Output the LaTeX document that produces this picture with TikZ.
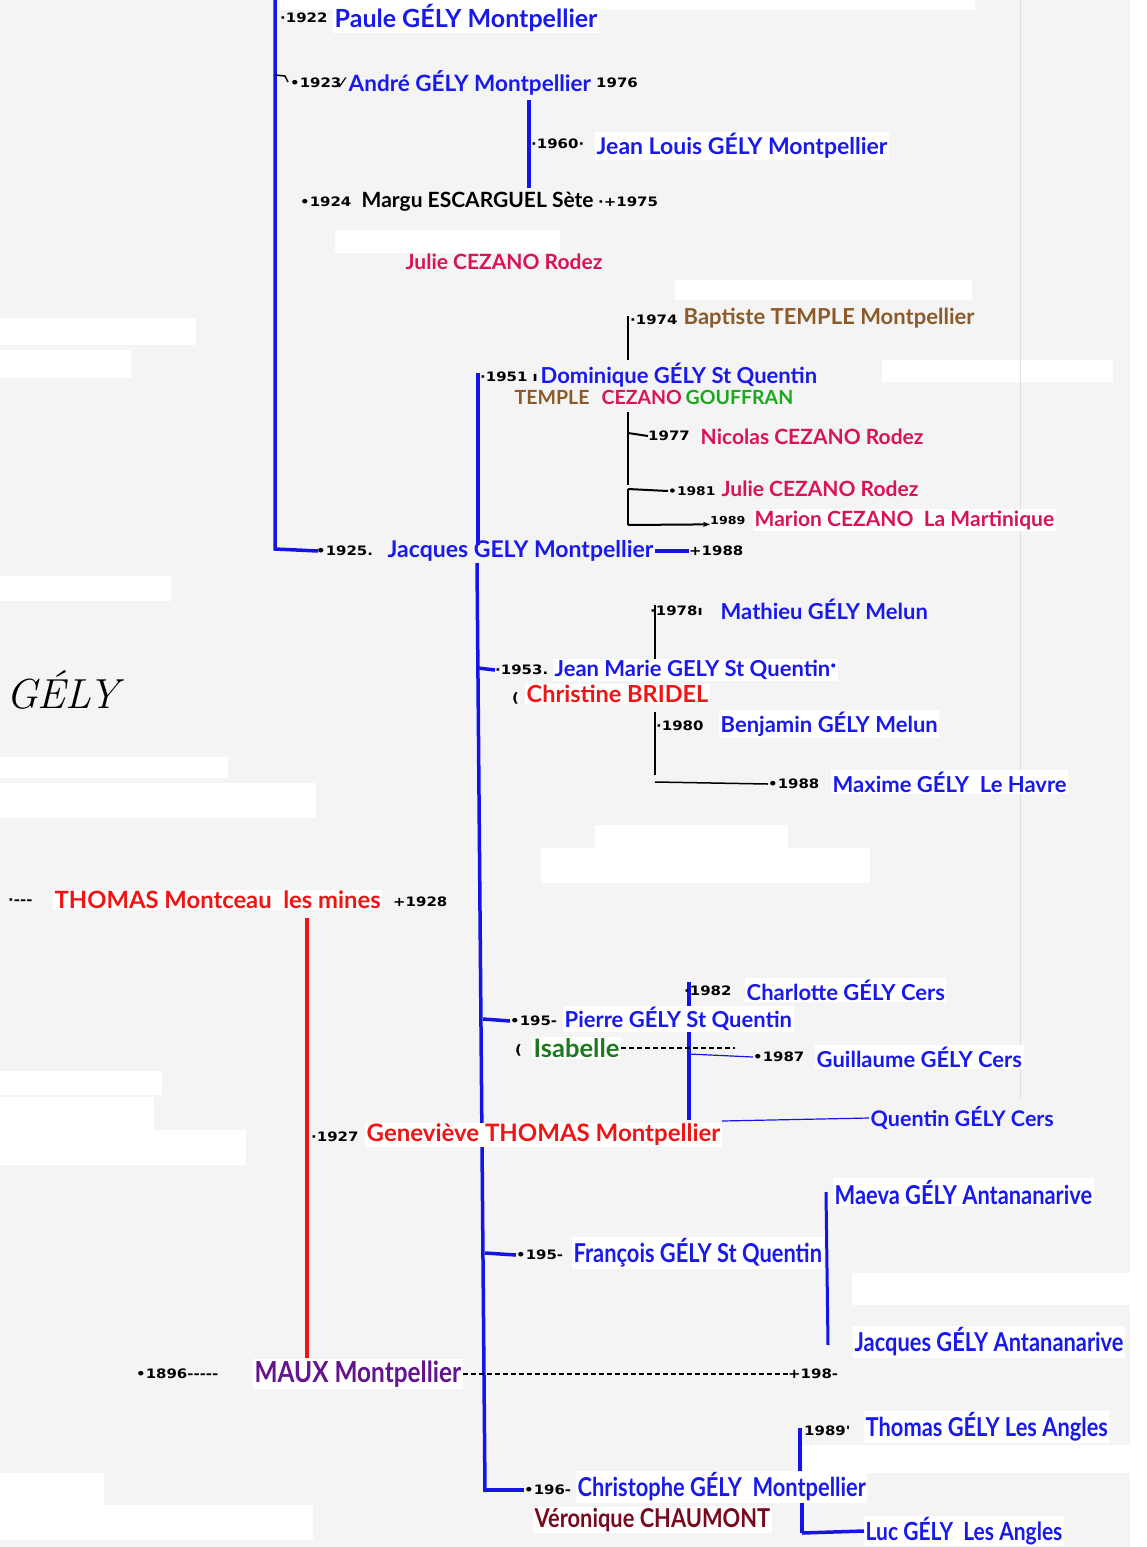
\documentclass[tikz,border=0pt]{standalone}
\usepackage{fontspec}
\setmainfont{Lato}
\newfontfamily\yrfont[FakeStretch=1.15]{DejaVu Sans}
\newfontfamily\cndfont[FakeStretch=0.84]{Lato}
\usetikzlibrary{arrows.meta}
\definecolor{bgc}{RGB}{244,244,244}
\definecolor{gblue}{RGB}{25,25,235}
\definecolor{lblue}{RGB}{20,20,230}
\definecolor{crim}{RGB}{215,20,90}
\definecolor{brn}{RGB}{140,90,40}
\definecolor{grn}{RGB}{25,170,25}
\definecolor{dgrn}{RGB}{30,120,30}
\definecolor{rd}{RGB}{240,20,20}
\definecolor{purp}{RGB}{100,20,140}
\definecolor{dred}{RGB}{120,10,30}
\newcommand{\fsz}[1]{\fontsize{#1}{#1}\selectfont\bfseries}
\tikzset{
  nm/.style={anchor=west, inner sep=1.5pt, fill=white, font=\fsz{22}},
  nmc/.style={nm, font=\cndfont\fsz{26}},
  yr/.style={anchor=west, inner sep=0pt, text=black, font=\yrfont\fsz{13}},
  bl/.style={line width=3.5pt, draw=lblue},
  thinbl/.style={line width=1.2pt, draw=lblue},
  bk/.style={line width=2pt, draw=black},
}
\begin{document}
\begin{tikzpicture}[x=1pt,y=-1pt]
\useasboundingbox (0,0) rectangle (1146,1547);
\fill[bgc] (0,0) rectangle (1146,1547);
% white patches
\foreach \a/\b/\c/\d in {280/0/975/10, 0/318/196/345, 0/350/131/378, 335/230/560/253, 675/280/972/300,
  882/360/1113/382, 0/576/171/601, 0/757/228/778, 0/783/316/818, 595/825/788/848, 541/848/870/883,
  0/1071/162/1095, 0/1097/154/1130, 0/1130/246/1165, 852/1273/1146/1305, 803/1445/1130/1473,
  0/1473/104/1505, 0/1505/313/1540, 1130/0/1146/1547}
  \fill[white] (\a,\b) rectangle (\c,\d);
\draw[gray!25, line width=1pt] (1020,0) -- (1020,1100);

% ---- coordinates for tree lines
\coordinate (gtop) at (275,0);
\coordinate (gbend) at (275,549);
\coordinate (gend) at (318,551);
\coordinate (jlt) at (529,100);
\coordinate (jlb) at (529,188);
\coordinate (bpt) at (628,316);
\coordinate (bpb) at (628,360);
\coordinate (dmt) at (478,373);
\coordinate (dmb) at (478,545);
\coordinate (nct) at (628,412);
\coordinate (ncb) at (628,485);
\coordinate (jut) at (628,489);
\coordinate (jub) at (628,525);
\coordinate (mainT) at (477,563);
\coordinate (mainB) at (485,1492);
\coordinate (mat) at (655,605);
\coordinate (mab) at (655,660);
\coordinate (bnt) at (655,712);
\coordinate (bnb) at (655,775);
\coordinate (mxs) at (655,782);
\coordinate (redT) at (307,918);
\coordinate (redB) at (307,1358);
\coordinate (cht) at (689,982);
\coordinate (chb) at (689,1120);
\coordinate (mvt) at (826,1192);
\coordinate (mvb) at (828,1345);
\coordinate (tht) at (800,1428);
\coordinate (thm) at (800,1475);
\coordinate (lct) at (802,1500);
\coordinate (lcb) at (802,1533);

% ---- lines
\draw[bl] (gtop) -- (gbend) -- (gend);
\draw[bl] (jlt) -- (jlb);
\draw[bk] (bpt) -- (bpb);
\draw[bl] (dmt) -- (dmb);
\draw[bk] (nct) -- (ncb);
\draw[bk] (nct |- 0,433) -- (648,436);
\draw[bk] (jut) -- (jub);
\draw[bl] (mainT) -- (mainB);
\draw[bk] (mat) -- (mab);
\draw[bk] (bnt) -- (bnb);
\draw[line width=4pt, draw=rd] (redT) -- (redB);
\draw[bl] (cht) -- (chb);
\draw[line width=3pt, draw=lblue] (mvt) -- (mvb);
\draw[bl] (tht) -- (thm);
\draw[bl] (lct) -- (lcb);

% ---- GELY title
\node[anchor=west, inner sep=0pt] (title) at (6,690) {\fontspec{Latin Modern Roman}\fontsize{42}{42}\selectfont\itshape GÉLY};

% ---- Paule
\node[yr] (y1922) at (280,18) {·1922};
\node[nm, text=gblue, font=\fsz{25}] (paule) at (333,18) {Paule GÉLY Montpellier\hspace{30pt}};
% ---- André
\draw[bk, line width=1.5pt] (275,75) -- (285,76) -- (288,82);
\node[yr] (y1923) at (290,83) {•1923⁄};
\node[nm, text=gblue, fill=none, font=\fsz{22.5}] (andre) at (347,83) {André GÉLY Montpellier};
\node[yr] (d1976) at (596,83) {1976};
% ---- Jean Louis
\node[yr] (y1960) at (531,144) {·1960·};
\node[nm, text=gblue, font=\fsz{23}] (jeanlouis) at (595,146) {Jean Louis GÉLY Montpellier\hspace{28pt}};
% ---- Margu
\node[yr] (y1924) at (300,202) {•1924};
\node[nm, text=black, fill=none, font=\fsz{21}] (margu) at (360,202) {Margu ESCARGUEL Sète};
\node[yr] (d1975) at (598,202) {·+1975};
% ---- Julie CEZANO 1
\node[nm, text=crim, fill=none, font=\fsz{21}] (julie1) at (404,262) {Julie CEZANO Rodez};
% ---- Baptiste
\node[yr] (y1974) at (630,320) {·1974};
\node[nm, text=brn, fill=none] (baptiste) at (682,318) {Baptiste TEMPLE Montpellier};
% ---- Dominique
\node[yr] (y1951) at (480,377) {·1951 ı};
\node[nm, text=gblue, fill=none] (dominique) at (539,375) {Dominique GÉLY St Quentin};
\node[nm, text=brn, fill=none, font=\fsz{19.5}] (temple) at (513,397) {TEMPLE};
\node[nm, text=crim, fill=none, font=\fsz{19.5}] (cezano) at (600,397) {CEZANO};
\node[nm, text=grn, fill=none, font=\fsz{19.5}] (gouffran) at (684,397) {GOUFFRAN};
% ---- Nicolas
\node[yr] (y1977) at (648,436) {1977};
\node[nm, text=crim, fill=none, font=\fsz{21}] (nicolas) at (699,437) {Nicolas CEZANO Rodez};
% ---- Julie 2
\node[yr, font=\yrfont\fsz{12}] (y1981) at (668,491) {•1981};
\draw[bk] (jut) -- (y1981.west);
\node[nm, text=crim, fill=none, font=\fsz{21}] (julie2) at (720,489) {Julie CEZANO Rodez};
% ---- Marion
\node[yr, font=\yrfont\fsz{11}] (y1989m) at (710,520) {1989};
\draw[bk, -{Stealth[length=7pt]}] (jub) -- (y1989m.south west);
\node[nm, text=crim, font=\fsz{21}] (marion) at (753,520) {Marion CEZANO\ \ La Martinique};
% ---- Jacques
\node[yr] (y1925) at (316,551) {•1925.};
\node[nm, text=gblue, fill=none, font=\fsz{23}] (jacques) at (386,551) {Jacques GELY Montpellier};
\node[yr] (d1988) at (689,551) {+1988};
\draw[bl] (jacques.east) -- (d1988.west);
% ---- Mathieu
\node[yr] (y1978) at (650,611) {·1978ı};
\node[nm, text=gblue, fill=none] (mathieu) at (719,609) {Mathieu GÉLY Melun};
% ---- Jean Marie
\node[yr] (y1953) at (495,670) {·1953.};
\draw[bl] (478,668) -- (y1953.west);
\node[nm, text=gblue] (jeanmarie) at (553,670) {Jean Marie GELY St Quentin\raisebox{4pt}{·}};
\node[yr] (cpar) at (512,698) {(};
\node[nm, text=rd, font=\fsz{23.5}] (christine) at (525,694) {Christine BRIDEL};
% ---- Benjamin
\node[yr] (y1980) at (656,726) {·1980};
\node[nm, text=gblue] (benjamin) at (719,724) {Benjamin GÉLY Melun\hspace{20pt}};
% ---- Maxime
\node[yr] (y1988b) at (768,784) {•1988};
\draw[bk, line width=1.5pt] (mxs) -- (y1988b.west);
\node[nm, text=gblue] (maxime) at (831,782) {Maxime GÉLY\ \ Le Havre};
% ---- THOMAS
\node[yr] (dash1) at (8,902) {·---};
\node[nm, text=rd, font=\fsz{23.8}] (thomas) at (53,900) {THOMAS Montceau\ \ les mines};
\node[yr] (d1928) at (393,902) {+1928};
% ---- Geneviève
\node[yr] (y1927) at (311,1137) {·1927};
\node[nm, text=rd, font=\fsz{24}] (genevieve) at (365,1135) {Geneviève THOMAS Montpellier};
% ---- Charlotte
\node[yr] (y1982) at (684,991) {·1982};
\node[nm, text=gblue] (charlotte) at (745,990) {Charlotte GÉLY Cers};
% ---- Pierre
\node[yr] (y195a) at (510,1021) {•195-};
\draw[bl] (483,1019) -- (y195a.west);
\node[nm, text=gblue] (pierre) at (563,1019) {Pierre GÉLY St Quentin\hspace{55pt}};
% ---- Isabelle
\node[yr] (ipar) at (515,1050) {(};
\node[nm, text=dgrn, font=\fsz{25.5}] (isabelle) at (532,1048) {Isabelle};
\coordinate (isd) at (735,1048);
\draw[black, line width=1.3pt, dash pattern=on 5pt off 3pt] (isabelle.east) -- (isd);
\node[yr] (y1987) at (753,1057) {•1987};
\draw[thinbl] (chb |- 0,1054) -- (y1987.west);
\node[nm, text=gblue] (guillaume) at (815,1057) {Guillaume GÉLY Cers};
% ---- Quentin
\node[nm, text=gblue, fill=none, font=\fsz{21.5}] (quentin) at (869,1118) {Quentin GÉLY Cers};
\draw[thinbl] (722,1121) -- (quentin.west);
% ---- Maeva / Jacques Antananarive
\node[nmc, text=gblue] (maeva) at (833,1192) {Maeva GÉLY Antananarive};
\node[nmc, text=gblue] (jacques2) at (853,1342) {Jacques GÉLY Antananarive};
% ---- François
\node[yr] (y195b) at (516,1255) {•195-};
\draw[bl] (485,1253) -- (y195b.west);
\node[nmc, text=gblue] (francois) at (572,1253) {François GÉLY St Quentin};
% ---- MAUX
\node[yr] (y1896) at (136,1374) {•1896-----};
\node[nmc, text=purp, font=\cndfont\fsz{29}] (maux) at (253,1374) {MAUX Montpellier};
\node[yr] (d198) at (788,1374) {+198-};
\draw[black, line width=1.1pt, dash pattern=on 5pt off 3pt] (maux.east) -- (d198.west);
% ---- Thomas Les Angles
\node[yr] (y1989t) at (804,1431) {1989'};
\node[nmc, text=gblue] (thomasla) at (864,1427) {Thomas GÉLY Les Angles};
% ---- Christophe
\node[yr] (y196) at (524,1490) {•196-};
\draw[bl] (485,1490) -- (y196.west);
\node[nmc, text=gblue] (christophe) at (576,1487) {Christophe GÉLY\ \ Montpellier};
\node[nmc, text=dred] (veronique) at (533,1520) {Véronique CHAUMONT};
% ---- Luc
\node[nmc, text=gblue, font=\cndfont\fsz{25}] (luc) at (864,1531) {Luc GÉLY\ \ Les Angles};
\draw[bl] (lcb) -- (luc.west);
\end{tikzpicture}
\end{document}
